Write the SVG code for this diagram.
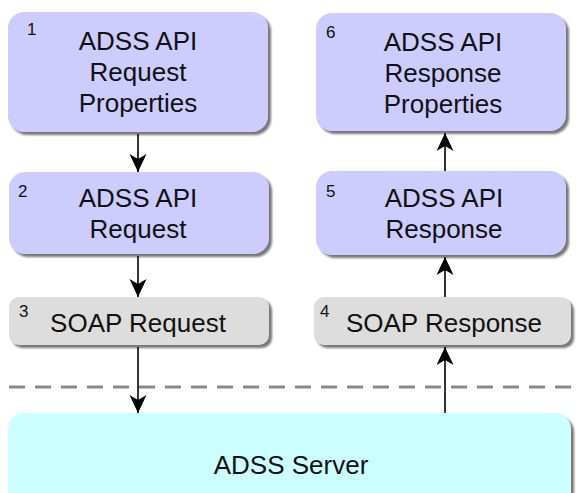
<svg xmlns="http://www.w3.org/2000/svg" width="576" height="493" viewBox="0 0 576 493">
<defs>
<filter id="sh" x="-5%" y="-5%" width="115%" height="125%">
<feGaussianBlur in="SourceAlpha" stdDeviation="1"/>
<feOffset dx="3" dy="3" result="b"/>
<feFlood flood-color="#777777"/>
<feComposite in2="b" operator="in"/>
<feMerge><feMergeNode/><feMergeNode in="SourceGraphic"/></feMerge>
</filter>
<marker id="ah" markerUnits="userSpaceOnUse" markerWidth="19" markerHeight="18" refX="18" refY="8.5" orient="auto">
<path d="M0,0 L18,8.5 L0,17 L5,8.5 z" fill="#000"/>
</marker>
<style>
.api{fill:#ccccff;filter:url(#sh)}
.soap{fill:#dddddd;filter:url(#sh)}
.srv{fill:#ccffff;filter:url(#sh)}
.t{font-family:"Liberation Sans",Arial,sans-serif;font-size:26px;fill:#111;text-anchor:middle}
.n{font-family:"Liberation Sans",Arial,sans-serif;font-size:17px;fill:#111}
.c{stroke:#000;stroke-width:1.6;fill:none;marker-end:url(#ah)}
</style>
</defs>
<rect width="576" height="493" fill="#fff"/>
<line x1="9" y1="387" x2="576" y2="387" stroke="#888" stroke-width="3" stroke-dasharray="16 10"/>
<g id="n1"><rect class="api" x="8" y="12" width="260" height="120" rx="16"/>
<text class="n" x="27" y="35">1</text>
<text class="t" x="138" y="50">ADSS API</text><text class="t" x="138" y="81">Request</text><text class="t" x="138" y="112">Properties</text></g>
<g id="n2"><rect class="api" x="9" y="172" width="260" height="82" rx="16"/>
<text class="n" x="18" y="197">2</text>
<text class="t" x="138" y="207">ADSS API</text><text class="t" x="138" y="238">Request</text></g>
<g id="n3"><rect class="soap" x="9" y="297" width="260" height="48" rx="10"/>
<text class="n" x="19" y="317">3</text>
<text class="t" x="138" y="332">SOAP Request</text></g>
<g id="n4"><rect class="soap" x="314" y="297" width="257" height="48" rx="10"/>
<text class="n" x="320" y="317">4</text>
<text class="t" x="444" y="332">SOAP Response</text></g>
<g id="n5"><rect class="api" x="316" y="171" width="250" height="84" rx="16"/>
<text class="n" x="326" y="197">5</text>
<text class="t" x="444" y="207">ADSS API</text><text class="t" x="444" y="238">Response</text></g>
<g id="n6"><rect class="api" x="316" y="13" width="250" height="118" rx="16"/>
<text class="n" x="326" y="38">6</text>
<text class="t" x="443" y="51">ADSS API</text><text class="t" x="443" y="82">Response</text><text class="t" x="443" y="113">Properties</text></g>
<g id="server"><rect class="srv" x="8" y="413" width="563" height="100" rx="16"/>
<text class="t" x="291" y="474">ADSS Server</text></g>
<g id="connectors">
<line class="c" x1="138" y1="134" x2="138" y2="172"/>
<line class="c" x1="138" y1="256" x2="138" y2="297"/>
<line class="c" x1="138" y1="347" x2="138" y2="413"/>
<line class="c" x1="445" y1="413" x2="445" y2="347"/>
<line class="c" x1="445" y1="297" x2="445" y2="257"/>
<line class="c" x1="445" y1="171" x2="445" y2="133"/>
</g>
</svg>
